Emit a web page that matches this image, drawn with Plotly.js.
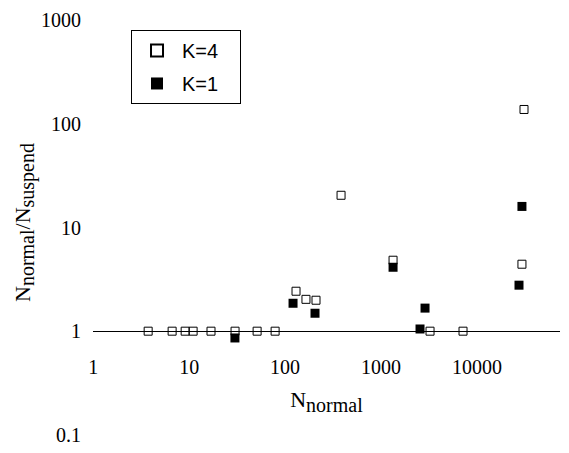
<!DOCTYPE html>
<html>
<head>
<meta charset="utf-8">
<script src="https://cdn.plot.ly/plotly-3.0.1.min.js"></script>
<style>html,body{margin:0;padding:0;background:#fff;}#chart{width:569px;height:453px;}</style>
</head>
<body>
<div id="chart"></div>
<script>
// K=1 series (filled squares)
const nNormalK1 = [30, 121, 205, 1334, 2548, 2873, 27400, 29400];
const ratioK1   = [0.86, 1.86, 1.49, 4.14, 1.05, 1.67, 2.78, 16.0];

// K=4 series (open squares)
const nNormalK4 = [3.74, 6.65, 9.09, 11.0, 16.9, 30.1, 51.1, 78.7, 130, 165, 210, 383, 1334, 3240, 7150, 29400, 30900];
const ratioK4   = [1, 1, 1, 1, 1, 1, 1, 1, 2.43, 2.03, 1.99, 20.5, 4.84, 1, 1, 4.43, 138];

// Tick labels
const xTickVals = [1, 10, 100, 1000, 10000];
const xTickText = ['1', '10', '100', '1000', '10000'];
const yTickVals = [0.1, 1, 10, 100, 1000];
const yTickText = ['0.1', '1', '10', '100', '1000'];

const seriesNames = ['K=4', 'K=1'];

const serif = 'Liberation Serif, Times New Roman, serif';
const sans = 'Liberation Sans, Arial, sans-serif';
const pad = '\u00a0\u00a0\u00a0';

const traces = [
  {
    x: nNormalK4, y: ratioK4, name: seriesNames[0] + pad, type: 'scatter', mode: 'markers',
    legendgroup: 'g4',
    marker: {symbol: 'square-open', size: 8, color: '#000', line: {width: 1, color: '#000'}}
  },
  {
    x: nNormalK1, y: ratioK1, name: seriesNames[1] + pad, type: 'scatter', mode: 'markers',
    legendgroup: 'g1',
    marker: {symbol: 'square', size: 9, color: '#000'}
  }
];

const sub = s => '<sub><span style="font-size:20px">' + s + '</span></sub>';

const yMin = -1.002, yMax = 3.1;
const layout = {
  width: 569, height: 453,
  margin: {l: 93, r: 9, t: 10, b: 18, pad: 0},
  paper_bgcolor: '#fff', plot_bgcolor: '#fff',
  showlegend: true,
  legend: {
    x: 0.0814, y: 0.953, xanchor: 'left', yanchor: 'top',
    bordercolor: '#000', borderwidth: 1, bgcolor: 'rgba(255,255,255,0)',
    font: {family: sans, size: 20, color: '#000'},
    traceorder: 'grouped', tracegroupgap: 4,
    itemwidth: 40, itemsizing: 'constant'
  },
  xaxis: {
    type: 'log', range: [-0.002, 4.865],
    tickvals: xTickVals, ticktext: xTickText,
    showgrid: false, zeroline: false,
    showline: true, linecolor: '#000', linewidth: 1,
    anchor: 'free', position: (0 - yMin) / (yMax - yMin),
    ticks: '', ticklabelstandoff: 18,
    tickfont: {family: serif, size: 20, color: '#000'},
    title: {text: 'N' + sub('normal'), font: {family: serif, size: 22, color: '#000'}, standoff: 14}
  },
  yaxis: {
    type: 'log', range: [yMin, yMax],
    tickvals: yTickVals, ticktext: yTickText,
    showgrid: false, zeroline: false, showline: false,
    ticks: '', ticklabelstandoff: 11,
    tickfont: {family: serif, size: 20, color: '#000'},
    title: {text: 'N' + sub('normal') + '/N' + sub('suspend'), font: {family: serif, size: 22, color: '#000'}, standoff: 4}
  }
};

Plotly.newPlot('chart', traces, layout, {displayModeBar: false, staticPlot: true});
</script>
</body>
</html>
